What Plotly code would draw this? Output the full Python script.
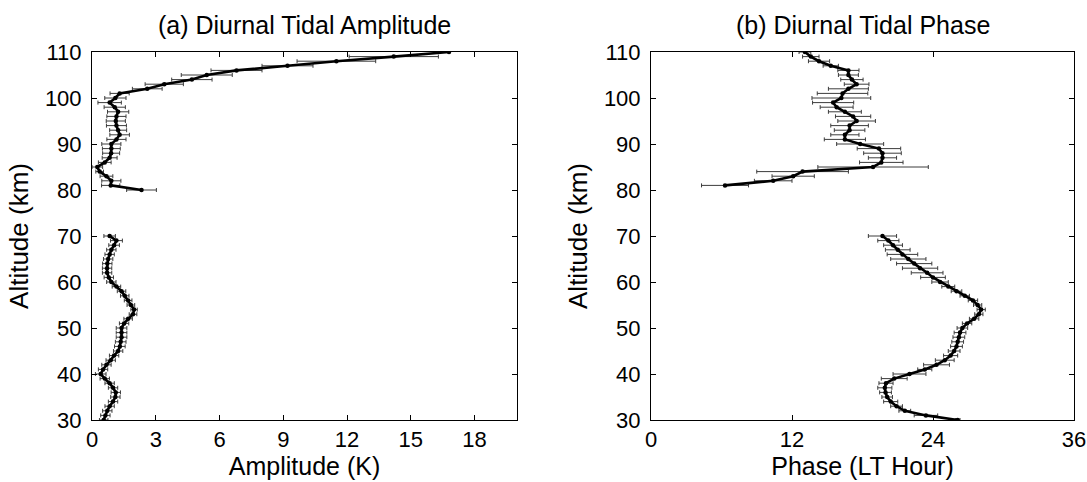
import plotly.graph_objects as go

# ---- Data ----
alt_upper = list(range(80, 111))
amp_upper = [2.33, 0.88, 0.91, 0.68, 0.36, 0.25, 0.60, 0.83, 0.90, 0.91, 0.91,
             1.15, 1.30, 1.23, 1.15, 1.12, 1.15, 1.23, 1.07, 0.83, 1.10,
             1.30, 2.60, 3.40, 4.70, 5.40, 6.80, 9.20, 11.5, 14.2, 16.8]
amp_upper_err = [0.70, 0.43, 0.45, 0.30, 0.18, 0.25, 0.30, 0.35, 0.40, 0.42, 0.45,
                 0.45, 0.46, 0.40, 0.47, 0.45, 0.45, 0.50, 0.50, 0.55, 0.50,
                 0.45, 0.70, 0.90, 0.95, 1.20, 1.20, 1.20, 1.85, 2.10, 0.0]

alt_lower = list(range(30, 71))
amp_lower = [0.55, 0.63, 0.72, 0.83, 0.99, 1.10, 1.12, 0.99, 0.83, 0.60, 0.41,
             0.52, 0.68, 0.88, 1.04, 1.23, 1.31, 1.35, 1.39, 1.39, 1.39,
             1.51, 1.70, 1.93, 1.98, 1.83, 1.70, 1.54, 1.39, 1.15, 0.91,
             0.79, 0.71, 0.71, 0.72, 0.76, 0.83, 0.91, 1.04, 1.15, 0.83]
amp_lower_err = [0.20, 0.22, 0.22, 0.22, 0.22, 0.22, 0.22, 0.22, 0.22, 0.22, 0.25,
                 0.22, 0.22, 0.22, 0.22, 0.22, 0.25, 0.25, 0.25, 0.25, 0.25,
                 0.22, 0.20, 0.18, 0.15, 0.18, 0.18, 0.20, 0.20, 0.20, 0.22,
                 0.22, 0.22, 0.22, 0.22, 0.22, 0.22, 0.22, 0.25, 0.28, 0.27]

alt_ph_upper = list(range(81, 111))
ph_upper = [6.3, 10.4, 12.1, 12.9, 18.9, 19.6, 19.7, 19.7, 19.4, 17.8,
            16.5, 16.5, 16.9, 16.9, 17.5, 17.2, 16.5, 15.8, 15.5, 16.2,
            16.3, 16.8, 17.5, 17.1, 16.8, 16.8, 15.3, 14.3, 13.6, 13.1]
ph_upper_err = [2.0, 1.6, 1.8, 3.9, 4.7, 1.85, 1.2, 1.6, 1.85, 2.0,
                1.75, 1.2, 1.3, 1.6, 1.6, 1.5, 1.4, 1.4, 1.75, 2.5,
                2.15, 1.7, 1.05, 0.95, 0.85, 0.9, 0.65, 0.9, 0.7, 0.5]

alt_ph_lower = list(range(30, 71))
ph_lower = [26.1, 23.4, 21.6, 20.9, 20.4, 20.1, 19.96, 19.9, 20.0, 20.7, 22.0,
            23.3, 24.3, 25.0, 25.5, 25.8, 26.0, 26.1, 26.2, 26.3, 26.5,
            26.9, 27.5, 27.9, 28.1, 27.8, 27.4, 26.7, 26.0, 25.3, 24.6,
            24.0, 23.5, 22.9, 22.4, 21.9, 21.4, 21.0, 20.6, 20.2, 19.7]
ph_lower_err = [0.2, 1.0, 0.5, 0.5, 0.6, 0.45, 0.5, 0.6, 0.6, 1.1, 1.4,
                0.6, 1.1, 0.8, 0.6, 0.5, 0.5, 0.5, 0.5, 0.5, 0.45,
                0.4, 0.4, 0.35, 0.35, 0.35, 0.4, 0.4, 0.45, 0.55, 0.7,
                1.05, 1.35, 1.5, 1.5, 1.5, 1.3, 1.05, 0.8, 0.9, 1.2]

amp_ticks = [0, 3, 6, 9, 12, 15, 18]
phase_ticks = [0, 12, 24, 36]
alt_ticks = [30, 40, 50, 60, 70, 80, 90, 100, 110]

titles = ["(a) Diurnal Tidal Amplitude", "(b) Diurnal Tidal Phase"]
xtitles = ["Amplitude (K)", "Phase (LT Hour)"]
ytitle = "Altitude (km)"

FONT = "Liberation Sans, Arial, sans-serif"

fig = go.Figure()


def add_series(x, y, err, xa, ya):
    fig.add_trace(go.Scatter(
        x=x, y=y, xaxis=xa, yaxis=ya, mode="lines+markers",
        line=dict(color="black", width=2.6),
        marker=dict(color="black", size=4.5),
        error_x=dict(type="data", array=err, visible=True,
                     color="#3c3c3c", thickness=1, width=2),
        showlegend=False, hoverinfo="skip"))


add_series(amp_upper, alt_upper, amp_upper_err, "x", "y")
add_series(amp_lower, alt_lower, amp_lower_err, "x", "y")
add_series(ph_upper, alt_ph_upper, ph_upper_err, "x2", "y2")
add_series(ph_lower, alt_ph_lower, ph_lower_err, "x2", "y2")

W, H = 1087, 482
left_dom = [92 / W, 517 / W]
right_dom = [651 / W, 1074 / W]
ydom = [1 - 420 / H, 1 - 52 / H]

axis_common = dict(showline=True, linecolor="black", linewidth=1,
                   mirror="allticks", ticks="inside", ticklen=5,
                   tickcolor="black", showgrid=False, zeroline=False,
                   automargin=False,
                   tickfont=dict(family=FONT, size=22, color="black"))

xt_font = dict(family=FONT, size=25, color="black")
yt_font = dict(family=FONT, size=26, color="black")

fig.update_layout(
    width=W, height=H, margin=dict(l=0, r=0, t=0, b=0, autoexpand=False),
    paper_bgcolor="white", plot_bgcolor="white",
    xaxis=dict(domain=left_dom, range=[0, 20], tickvals=amp_ticks,
               anchor="y", title=dict(text=xtitles[0], standoff=2, font=xt_font),
               **axis_common),
    yaxis=dict(domain=ydom, range=[30, 110], tickvals=alt_ticks,
               anchor="x", ticklabelstandoff=5,
               title=dict(text=ytitle, standoff=8, font=yt_font), **axis_common),
    xaxis2=dict(domain=right_dom, range=[0, 36], tickvals=phase_ticks,
                anchor="y2", title=dict(text=xtitles[1], standoff=2, font=xt_font),
                **axis_common),
    yaxis2=dict(domain=ydom, range=[30, 110], tickvals=alt_ticks,
                anchor="x2", ticklabelstandoff=5,
                title=dict(text=ytitle, standoff=8, font=yt_font), **axis_common),
)

for i, t in enumerate(titles):
    dom = left_dom if i == 0 else right_dom
    fig.add_annotation(text=t, xref="paper", yref="paper",
                       x=(dom[0] + dom[1]) / 2, y=1 - 25 / H,
                       xanchor="center", yanchor="middle", showarrow=False,
                       font=dict(family=FONT, size=25, color="black"))

fig.write_html("out.html")
